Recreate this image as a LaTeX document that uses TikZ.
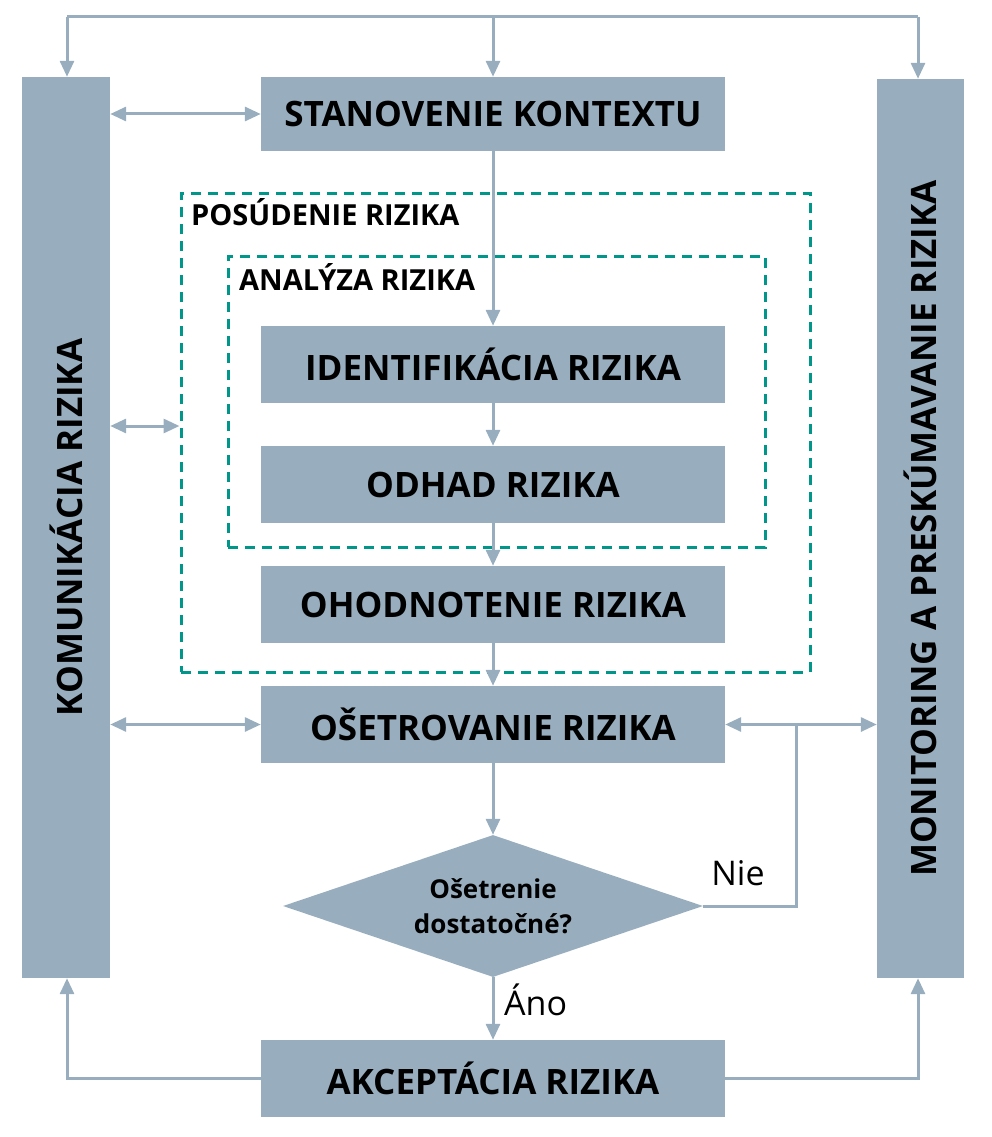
\documentclass[tikz,border=0pt]{standalone}
\usepackage{fontspec}
\setmainfont{Open Sans}
\usetikzlibrary{arrows.meta,shapes.geometric}
\definecolor{boxc}{HTML}{98AEBF}
\definecolor{dashc}{HTML}{00968A}
\begin{document}
\begin{tikzpicture}[x=1pt,y=-1pt,
  bigfont/.style={font=\bfseries\fontsize{35}{40}\selectfont},
  stepbox/.style={fill=boxc,draw=none,minimum width=464pt,minimum height=77pt,inner sep=0pt,bigfont},
  barbox/.style={fill=boxc,draw=none,inner sep=0pt},
  dashbox/.style={draw=dashc,line width=3pt,dash pattern=on 10pt off 7pt,minimum width=0pt,inner sep=0pt},
  conn/.style={draw=boxc,line width=3pt,-{Triangle[length=16pt,width=14pt]}},
  dconn/.style={draw=boxc,line width=3pt,{Triangle[length=16pt,width=14pt]}-{Triangle[length=16pt,width=14pt]}},
  plain/.style={draw=boxc,line width=3pt},
  lbl/.style={font=\bfseries\fontsize{29}{34}\selectfont,anchor=west,inner sep=0pt},
  edgelbl/.style={font=\fontsize{34}{40}\selectfont,inner sep=0pt}]
\useasboundingbox (0,0) rectangle (991,1137);
% bars
\node[barbox,minimum width=88pt,minimum height=901pt] (kom) at (66,527.5) {};
\node[rotate=90,bigfont] (komt) at (kom.center) {KOMUNIKÁCIA RIZIKA};
\node[barbox,minimum width=87pt,minimum height=899pt] (mon) at (920.5,528.5) {};
\node[rotate=90,bigfont] (mont) at (mon.center) {MONITORING A PRESKÚMAVANIE RIZIKA};
% steps
\node[stepbox,minimum height=74pt] (stan) at (493,114) {STANOVENIE KONTEXTU};
\node[stepbox] (ident) at (493,364.5) {IDENTIFIKÁCIA RIZIKA};
\node[stepbox] (odhad) at (493,484.5) {ODHAD RIZIKA};
\node[stepbox] (ohod) at (493,604.5) {OHODNOTENIE RIZIKA};
\node[stepbox] (oset) at (493,724.5) {OŠETROVANIE RIZIKA};
\node[stepbox] (akc) at (493,1078.5) {AKCEPTÁCIA RIZIKA};
\node[diamond,fill=boxc,inner sep=0pt,minimum width=420pt,minimum height=142pt,shape aspect=2.96,
  align=center,font=\bfseries\fontsize{26}{35}\selectfont] (dia) at (493,906) {Ošetrenie\\dostatočné?};
% dashed frames
\node[dashbox,minimum width=629pt,minimum height=479pt] (posud) at (495.5,432.5) {};
\node[dashbox,minimum width=537pt,minimum height=291pt] (anal) at (496.5,401.5) {};
\node[lbl] (posudl) at (191,212) {POSÚDENIE RIZIKA};
\node[lbl] (anall) at (239,277) {ANALÝZA RIZIKA};
% top feedback
\coordinate (tl) at (67,17);
\coordinate (tc) at (493,17);
\coordinate (tr) at (918,17);
\draw[plain] (tl) -- (tr);
\draw[conn] (tl) -- (kom.north -| tl);
\draw[conn] (tc) -- (stan.north);
\draw[conn] (tr) -- (mon.north -| tr);
% main flow
\draw[conn] (stan.south) -- (ident.north);
\draw[conn] (ident.south) -- (odhad.north);
\draw[conn] (odhad.south) -- (ohod.north);
\draw[conn] (ohod.south) -- (oset.north);
\draw[conn] (oset.south) -- (dia.north);
\draw[conn] (dia.south) -- (akc.north);
\node[edgelbl,anchor=west] (ano) at (504,1000) {Áno};
% side links
\draw[dconn] (kom.east |- stan.west) -- (stan.west);
\draw[dconn] (kom.east |- 0,426) -- (posud.west |- 0,426);
\draw[dconn] (kom.east |- oset.west) -- (oset.west);
\draw[dconn] (oset.east) -- (mon.west |- oset.east);
\coordinate (nj) at (796,724.5);
\draw[plain] (dia.east) -| (nj);
\node[edgelbl] (nie) at (738,873) {Nie};
% bottom
\coordinate (bl) at (67,1078.5);
\coordinate (br) at (918,1078.5);
\draw[conn] (akc.west) -- (bl) -- (kom.south -| bl);
\draw[conn] (akc.east) -- (br) -- (mon.south -| br);
\end{tikzpicture}
\end{document}
